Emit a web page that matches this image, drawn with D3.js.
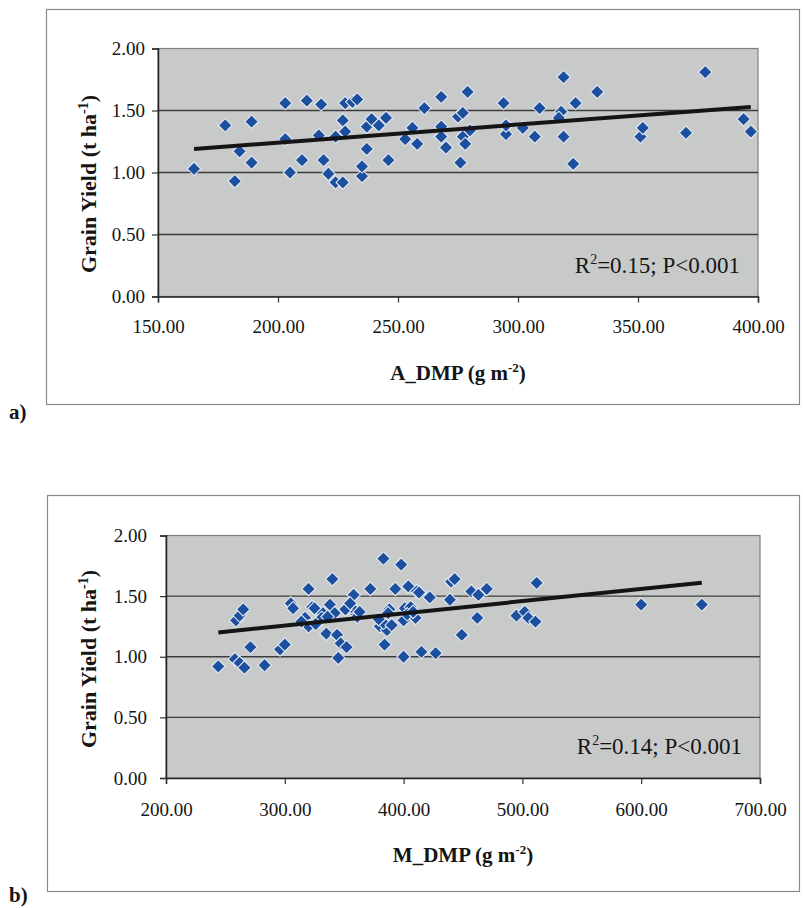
<!DOCTYPE html>
<html>
<head>
<meta charset="utf-8">
<script src="https://cdn.jsdelivr.net/npm/d3@7"></script>
<style>
  html, body { margin: 0; padding: 0; background: #ffffff; }
  svg { display: block; }
  svg text { font-family: "Liberation Serif", "Times New Roman", "DejaVu Serif", serif !important; fill: #151515; }
</style>
</head>
<body>
<svg id="fig" width="803" height="908"></svg>
<script>
// Panel a: above-ground dry matter production vs grain yield
const aDmp = [165, 178, 182, 184, 189, 189, 203, 203, 205, 210, 212, 218, 217, 219, 221, 224, 227,
  228, 227, 228, 224, 231, 233, 235, 235, 237, 237, 239, 242, 245, 246, 253, 256, 258, 261, 268,
  268, 270, 268, 275, 276, 277, 279, 277, 278, 280, 294, 295, 295, 302, 307, 309, 319, 318, 319,
  317, 324, 323, 333, 351, 352, 370, 378, 394, 397];
const aYield = [1.03, 1.38, 0.93, 1.17, 1.41, 1.08, 1.56, 1.27, 1.00, 1.10, 1.58, 1.55, 1.30, 1.10, 0.99, 0.92, 0.92,
  1.56, 1.42, 1.33, 1.29, 1.57, 1.59, 0.97, 1.05, 1.19, 1.37, 1.43, 1.38, 1.44, 1.10, 1.27, 1.36, 1.23, 1.52, 1.61,
  1.37, 1.20, 1.29, 1.45, 1.08, 1.48, 1.65, 1.29, 1.23, 1.34, 1.56, 1.31, 1.38, 1.36, 1.29, 1.52, 1.77, 1.49, 1.29,
  1.44, 1.56, 1.07, 1.65, 1.29, 1.36, 1.32, 1.81, 1.43, 1.33];

// Panel b: maturity dry matter production vs grain yield
const mDmp = [244, 258, 262, 266, 259, 262, 265, 271, 283, 296, 300, 305, 307, 320, 323, 317, 320,
  329, 332, 325, 331, 335, 338, 340, 342, 344, 345, 347, 352, 354, 357, 360, 358, 361, 356, 372,
  380, 383, 384, 386, 383, 388, 387, 393, 398, 400, 400, 401, 404, 406, 410, 411, 413, 415, 422,
  427, 439, 440, 443, 449, 457, 462, 463, 470, 495, 502, 505, 511, 512, 600, 651,
  314, 326, 336, 351, 355, 363, 379, 390, 403, 408];
const mYield = [0.92, 0.98, 0.95, 0.91, 1.30, 1.34, 1.39, 1.08, 0.93, 1.06, 1.10, 1.44, 1.40, 1.56, 1.41, 1.32, 1.25,
  1.29, 1.36, 1.40, 1.32, 1.19, 1.43, 1.64, 1.36, 1.18, 0.99, 1.11, 1.08, 1.42, 1.38, 1.35, 1.51, 1.33, 1.41, 1.56,
  1.25, 1.81, 1.10, 1.22, 1.28, 1.39, 1.36, 1.56, 1.76, 1.00, 1.30, 1.40, 1.58, 1.41, 1.32, 1.54, 1.53, 1.04, 1.49,
  1.03, 1.47, 1.62, 1.64, 1.18, 1.54, 1.32, 1.51, 1.56, 1.34, 1.37, 1.32, 1.29, 1.61, 1.43, 1.43,
  1.29, 1.27, 1.33, 1.39, 1.44, 1.37, 1.31, 1.26, 1.35, 1.37];

const aXTicks = [150, 200, 250, 300, 350, 400];
const mXTicks = [200, 300, 400, 500, 600, 700];
const yieldTicks = [0, 0.5, 1, 1.5, 2];

const aStat = { r2: "0.15", p: "P<0.001" };
const mStat = { r2: "0.14", p: "P<0.001" };

const SERIF = "'Liberation Serif', 'Times New Roman', 'DejaVu Serif', serif";
const svg = d3.select("#fig");
const fmt = d3.format(".2f");

// Filled diamond marker (square turned 45 degrees)
const diamond = {
  draw(ctx, size) {
    const r = Math.sqrt(size / 2);
    ctx.moveTo(0, -r); ctx.lineTo(r, 0); ctx.lineTo(0, r); ctx.lineTo(-r, 0); ctx.closePath();
  }
};

function linearFit(xs, ys) {
  const mx = d3.mean(xs), my = d3.mean(ys);
  let sxy = 0, sxx = 0;
  xs.forEach((x, i) => { sxy += (x - mx) * (ys[i] - my); sxx += (x - mx) * (x - mx); });
  const slope = sxy / sxx;
  return { slope, intercept: my - slope * mx };
}

function drawPanel(p) {
  const g = svg.append("g").attr("font-family", SERIF);

  // outer frame of the panel
  g.append("rect")
    .attr("x", p.frame[0]).attr("y", p.frame[1])
    .attr("width", p.frame[2]).attr("height", p.frame[3])
    .attr("fill", "none").attr("stroke", "#8a8a8a").attr("stroke-width", 1.2);

  const x = d3.scaleLinear().domain(p.xDomain).range([p.left, p.right]);
  const y = d3.scaleLinear().domain([0, 2]).range([p.bottom, p.top]);

  // plot area
  g.append("rect")
    .attr("x", p.left).attr("y", p.top)
    .attr("width", p.right - p.left).attr("height", p.bottom - p.top)
    .attr("fill", "#c8caca").attr("stroke", "#7d7d7d").attr("stroke-width", 1.2);

  // horizontal gridlines
  g.append("g").selectAll("line").data(yieldTicks.filter(t => t > 0 && t < 2)).join("line")
    .attr("x1", p.left).attr("x2", p.right)
    .attr("y1", d => y(d)).attr("y2", d => y(d))
    .attr("stroke", "#3c3c3c").attr("stroke-width", 1.3);

  // axes
  const yAxis = d3.axisLeft(y).tickValues(yieldTicks).tickFormat(fmt).tickSize(6).tickPadding(p.yPad);
  const xAxis = d3.axisBottom(x).tickValues(p.xTicks).tickFormat(fmt).tickSize(6).tickPadding(p.xPad);

  const ya = g.append("g").attr("transform", `translate(${p.left},0)`).call(yAxis);
  const xa = g.append("g").attr("transform", `translate(0,${p.bottom})`).call(xAxis);
  [ya, xa].forEach(a => {
    a.attr("font-family", SERIF).attr("font-size", 19);
    a.select(".domain").attr("stroke", "#222").attr("stroke-width", 1.5);
    a.selectAll(".tick line").attr("stroke", "#333").attr("stroke-width", 1.2);
    a.selectAll(".tick text").attr("fill", "#151515");
  });

  // data points
  const sym = d3.symbol().type(diamond).size(92);
  g.append("g").selectAll("path").data(p.xs).join("path")
    .attr("transform", (d, i) => `translate(${x(d)},${y(p.ys[i])})`)
    .attr("d", sym)
    .attr("fill", "#1d4f9f")
    .attr("stroke", "#e3e9f1").attr("stroke-width", 1.1);

  // linear trend across the observed range
  const fit = linearFit(p.xs, p.ys);
  const ext = d3.extent(p.xs);
  g.append("line")
    .attr("x1", x(ext[0])).attr("y1", y(fit.intercept + fit.slope * ext[0]))
    .attr("x2", x(ext[1])).attr("y2", y(fit.intercept + fit.slope * ext[1]))
    .attr("stroke", "#151515").attr("stroke-width", 4);

  // statistics annotation
  const st = g.append("text")
    .attr("x", p.right - 18).attr("y", p.bottom - 24)
    .attr("text-anchor", "end")
    .attr("font-size", 23);
  st.append("tspan").text("R");
  st.append("tspan").attr("dy", -9).attr("font-size", 14).text("2");
  st.append("tspan").attr("dy", 9).text(`=${p.stat.r2}; ${p.stat.p}`);

  // y axis title
  const yt = g.append("text")
    .attr("transform", `translate(${p.yTitleX},${p.yTitleY}) rotate(-90)`)
    .attr("text-anchor", "middle")
    .attr("font-size", 22).attr("font-weight", "bold");
  yt.append("tspan").text("Grain Yield (t ha");
  yt.append("tspan").attr("dy", -8).attr("font-size", 14).text("-1");
  yt.append("tspan").attr("dy", 8).text(")");

  // x axis title
  const xt = g.append("text")
    .attr("x", (p.left + p.right) / 2).attr("y", p.bottom + p.xTitleDy)
    .attr("text-anchor", "middle")
    .attr("font-size", 21).attr("font-weight", "bold");
  xt.append("tspan").text(`${p.xName} (g m`);
  xt.append("tspan").attr("dy", -8).attr("font-size", 13).text("-2");
  xt.append("tspan").attr("dy", 8).text(")");

  // panel letter
  g.append("text")
    .attr("x", 9).attr("y", p.letterY)
    .attr("font-size", 21).attr("font-weight", "bold")
    .text(p.letter);
}

drawPanel({
  frame: [46.5, 9.5, 753, 395], left: 158, right: 758, top: 48.5, bottom: 296.5,
  xDomain: [150, 400], xTicks: aXTicks, xs: aDmp, ys: aYield, stat: aStat,
  xName: "A_DMP", yTitleX: 96, yTitleY: 184, xTitleDy: 83, yPad: 7, xPad: 17,
  letter: "a)", letterY: 419
});

drawPanel({
  frame: [47.5, 495.5, 752, 396], left: 166, right: 760, top: 535.5, bottom: 778,
  xDomain: [200, 700], xTicks: mXTicks, xs: mDmp, ys: mYield, stat: mStat,
  xName: "M_DMP", yTitleX: 96, yTitleY: 659, xTitleDy: 84, yPad: 13, xPad: 19,
  letter: "b)", letterY: 902
});
</script>
</body>
</html>
